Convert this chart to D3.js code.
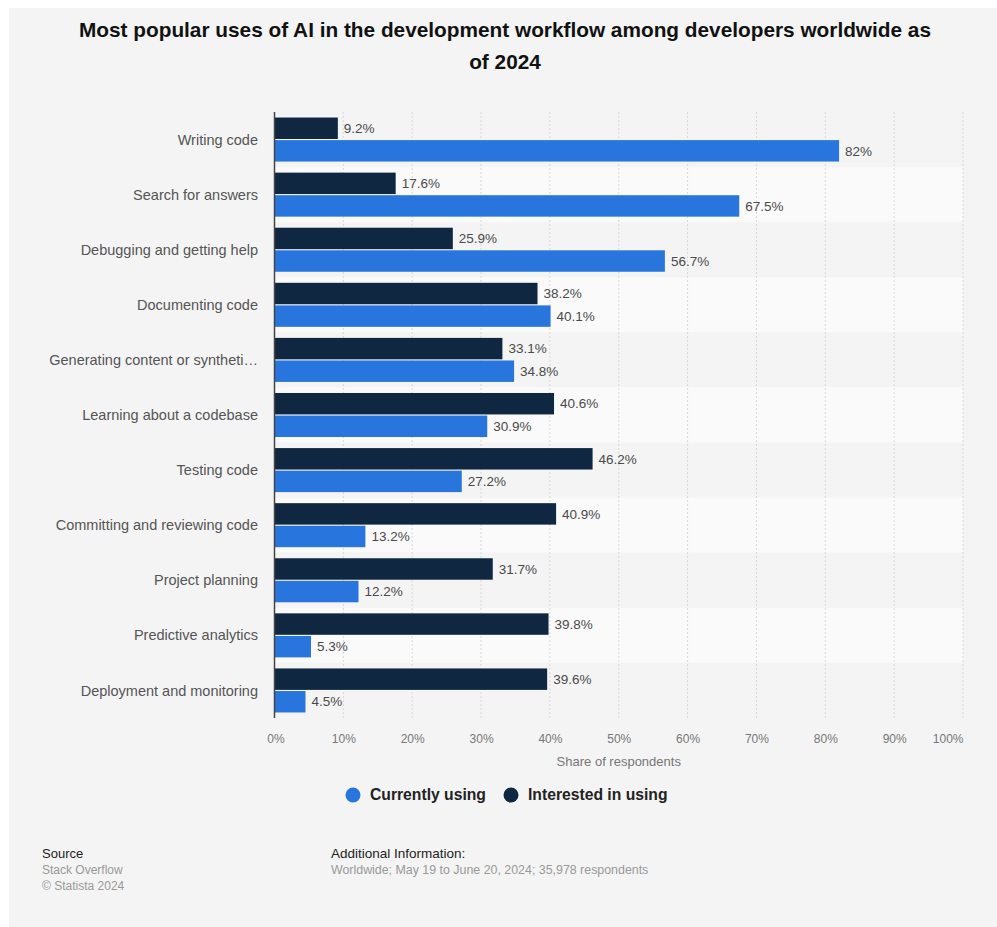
<!DOCTYPE html>
<html>
<head>
<meta charset="utf-8">
<script src="https://cdn.jsdelivr.net/npm/d3@7/dist/d3.min.js"></script>
<style>
  html, body { margin: 0; padding: 0; background: #ffffff; }
  svg { display: block; font-family: "Liberation Sans", Arial, Helvetica, sans-serif; }
</style>
</head>
<body>
<script>
const categories = [
  "Writing code",
  "Search for answers",
  "Debugging and getting help",
  "Documenting code",
  "Generating content or syntheti\u2026",
  "Learning about a codebase",
  "Testing code",
  "Committing and reviewing code",
  "Project planning",
  "Predictive analytics",
  "Deployment and monitoring"
];
const currentlyUsing = [82, 67.5, 56.7, 40.1, 34.8, 30.9, 27.2, 13.2, 12.2, 5.3, 4.5];
const interestedInUsing = [9.2, 17.6, 25.9, 38.2, 33.1, 40.6, 46.2, 40.9, 31.7, 39.8, 39.6];
const seriesNames = ["Currently using", "Interested in using"];
const tickValues = [0, 10, 20, 30, 40, 50, 60, 70, 80, 90, 100];
const titleLines = ["Most popular uses of AI in the development workflow among developers worldwide as", "of 2024"];
const axisTitle = "Share of respondents";

const W = 997, H = 927;
const colors = { current: "#2876dd", interested: "#0f2741" };

const svg = d3.select("body").append("svg").attr("width", W).attr("height", H);

// panel
svg.append("rect").attr("x", 9).attr("y", 8).attr("width", W - 9).attr("height", H - 8).attr("fill", "#f4f4f4");

// title
svg.append("g").selectAll("text").data(titleLines).join("text")
  .attr("x", 505).attr("y", (d, i) => 37 + i * 32)
  .attr("text-anchor", "middle")
  .attr("font-size", "20.8px").attr("font-weight", "bold").attr("fill", "#111")
  .text(d => d);

const plot = { left: 274.5, right: 963, top: 112, bottom: 718 };
const x = d3.scaleLinear().domain([0, 100]).range([plot.left, plot.right]);
const y = d3.scaleBand().domain(categories).range([plot.top, plot.bottom]);
const inner = d3.scaleBand().domain(["interested", "current"]).range([0, y.bandwidth()]).paddingInner(0.05).paddingOuter(0.245);

// stripes
svg.append("g").selectAll("rect").data(categories).join("rect")
  .attr("x", plot.left).attr("y", d => y(d))
  .attr("width", plot.right - plot.left).attr("height", y.bandwidth())
  .attr("fill", (d, i) => i % 2 === 1 ? "#fafafa" : "#f4f4f4");

// grid
svg.append("g").selectAll("line").data(tickValues.slice(1)).join("line")
  .attr("x1", d => x(d)).attr("x2", d => x(d))
  .attr("y1", plot.top).attr("y2", plot.bottom)
  .attr("stroke", "#d8d8d8").attr("stroke-width", 1).attr("stroke-dasharray", "2,2");

// bars
const rows = categories.map((c, i) => ({ c, current: currentlyUsing[i], interested: interestedInUsing[i] }));
const g = svg.append("g");
["interested", "current"].forEach(key => {
  g.append("g").selectAll("rect").data(rows).join("rect")
    .attr("x", x(0))
    .attr("y", d => y(d.c) + inner(key))
    .attr("width", d => x(d[key]) - x(0))
    .attr("height", inner.bandwidth())
    .attr("fill", colors[key]);
  g.append("g").selectAll("text").data(rows).join("text")
    .attr("x", d => x(d[key]) + 6)
    .attr("y", d => y(d.c) + inner(key) + inner.bandwidth() / 2)
    .attr("dy", "0.35em")
    .attr("font-size", "13.5px").attr("fill", "#4a4a4a")
    .text(d => d[key] + "%");
});

// category labels
svg.append("g").selectAll("text").data(categories).join("text")
  .attr("x", 258).attr("y", d => y(d) + y.bandwidth() / 2)
  .attr("dy", "0.35em").attr("text-anchor", "end")
  .attr("font-size", "14.5px").attr("fill", "#555")
  .text(d => d);

// axis line
svg.append("line").attr("x1", plot.left).attr("x2", plot.left)
  .attr("y1", plot.top).attr("y2", plot.bottom)
  .attr("stroke", "#444").attr("stroke-width", 1.5);

// tick labels
const xAxis = svg.append("g").attr("transform", `translate(0,${plot.bottom})`)
  .call(d3.axisBottom(x).tickValues(tickValues).tickFormat(d => d + "%").tickSize(0).tickPadding(16));
xAxis.select(".domain").remove();
xAxis.selectAll("text").attr("font-size", "12px").attr("fill", "#777")
  .attr("font-family", "'Liberation Sans', Arial, sans-serif")
  .attr("text-anchor", d => d === 100 ? "end" : "middle")
  .attr("dx", d => d === 0 ? 1 : 0);

svg.append("text").attr("x", (plot.left + plot.right) / 2).attr("y", 766)
  .attr("text-anchor", "middle").attr("font-size", "13px").attr("fill", "#777")
  .text(axisTitle);

// legend
const legend = svg.append("g");
const legendItems = [
  { name: seriesNames[0], color: colors.current, cx: 353 },
  { name: seriesNames[1], color: colors.interested, cx: 511 }
];
legendItems.forEach(it => {
  legend.append("circle").attr("cx", it.cx).attr("cy", 795).attr("r", 7.5).attr("fill", it.color);
  legend.append("text").attr("x", it.cx + 17).attr("y", 795).attr("dy", "0.35em")
    .attr("font-size", "15.7px").attr("font-weight", "bold").attr("fill", "#222").text(it.name);
});

// footer
const foot = svg.append("g");
foot.append("text").attr("x", 42).attr("y", 858).attr("font-size", "13px").attr("fill", "#222").text("Source");
foot.append("text").attr("x", 42).attr("y", 874).attr("font-size", "12px").attr("fill", "#999").text("Stack Overflow");
foot.append("text").attr("x", 42).attr("y", 890).attr("font-size", "12px").attr("fill", "#999").text("\u00a9 Statista 2024");
foot.append("text").attr("x", 331).attr("y", 858).attr("font-size", "13.5px").attr("fill", "#222").text("Additional Information:");
foot.append("text").attr("x", 331).attr("y", 874).attr("font-size", "12.4px").attr("fill", "#999").text("Worldwide; May 19 to June 20, 2024; 35,978 respondents");
</script>
</body>
</html>
